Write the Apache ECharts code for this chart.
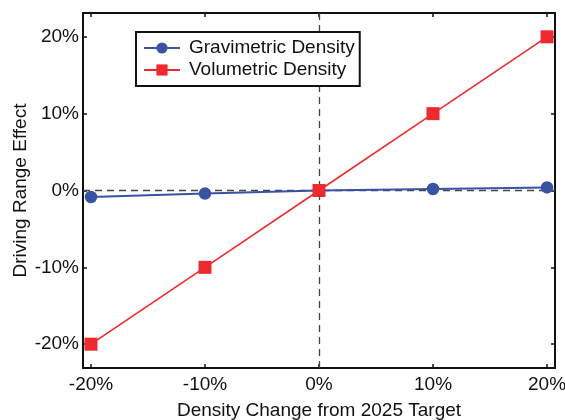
<!DOCTYPE html>
<html><head><meta charset="utf-8">
<script src="https://cdn.jsdelivr.net/npm/echarts@6/dist/echarts.min.js"></script>
<style>html,body{margin:0;padding:0;background:#fff}#c{width:565px;height:420px}</style>
</head><body><div id="c"></div>
<script>
const xTicks = [-20, -10, 0, 10, 20];
const yTicks = [-20, -10, 0, 10, 20];
const xValues = [-20, -10, 0, 10, 20];
const gravimetric = [-0.85, -0.4, 0, 0.2, 0.4];
const volumetric = [-20, -10, 0, 10, 20];

const FONT = '"Liberation Sans", Arial, sans-serif';
const FS = 19;
const chart = echarts.init(document.getElementById('c'), null, {renderer: 'canvas'});
const pct = v => Math.round(v) + '%';
const axBase = {
  type: 'value',
  axisLine: {show: true, onZero: false, lineStyle: {color: '#111', width: 2}},
  splitLine: {show: false},
  nameMoveOverlap: false,
};
chart.setOption({
  animation: false,
  grid: {left: 83, right: 10, top: 13, bottom: 52, containLabel: false, outerBoundsMode: 'none'},
  legend: {
    show: true,
    left: 136, top: 32,
    orient: 'vertical',
    itemGap: 2,
    itemWidth: 36, itemHeight: 14,
    padding: [6, 5, 6, 7],
    borderColor: '#111', borderWidth: 2, backgroundColor: '#fff',
    textStyle: {fontFamily: FONT, fontSize: FS, color: '#111', lineHeight: 20, padding: [0, 0, 0, 4]},
    data: ['Gravimetric Density', 'Volumetric Density']
  },
  xAxis: [
    Object.assign({}, axBase, {
      min: -20.7, max: 20.7, position: 'bottom',
      name: 'Density Change from 2025 Target', nameLocation: 'middle', nameGap: 33,
      nameTextStyle: {fontFamily: FONT, fontSize: FS, color: '#111'},
      axisTick: {show: true, inside: true, length: 4, customValues: xTicks, lineStyle: {color: '#111', width: 1.5}},
      axisLabel: {show: true, customValues: xTicks, formatter: pct, margin: 7, fontFamily: FONT, fontSize: FS, color: '#111'}
    }),
    Object.assign({}, axBase, {
      min: -20.7, max: 20.7, position: 'top',
      axisTick: {show: true, inside: true, length: 4, customValues: xTicks, lineStyle: {color: '#111', width: 1.5}},
      axisLabel: {show: false}
    })
  ],
  yAxis: [
    Object.assign({}, axBase, {
      min: -23.1, max: 23.1, position: 'left',
      name: 'Driving Range Effect', nameLocation: 'middle', nameGap: 53,
      nameTextStyle: {fontFamily: FONT, fontSize: FS, color: '#111'},
      axisTick: {show: true, inside: true, length: 4, customValues: yTicks, lineStyle: {color: '#111', width: 1.5}},
      axisLabel: {show: true, customValues: yTicks, formatter: pct, margin: 4, fontFamily: FONT, fontSize: FS, color: '#111'}
    }),
    Object.assign({}, axBase, {
      min: -23.1, max: 23.1, position: 'right',
      axisTick: {show: true, inside: true, length: 4, customValues: yTicks, lineStyle: {color: '#111', width: 1.5}},
      axisLabel: {show: false}
    })
  ],
  series: [
    {
      name: 'Gravimetric Density', type: 'line',
      data: xValues.map((x, i) => [x, gravimetric[i]]),
      symbol: 'circle', symbolSize: 12.5,
      lineStyle: {color: '#3953a4', width: 2},
      itemStyle: {color: '#3953a4'},
      z: 3,
      markLine: {
        silent: true, symbol: 'none', label: {show: false},
        lineStyle: {color: '#444', type: [7, 5], width: 1.3},
        data: [{xAxis: 0}, {yAxis: 0}],
        z: 1
      }
    },
    {
      name: 'Volumetric Density', type: 'line',
      data: xValues.map((x, i) => [x, volumetric[i]]),
      symbol: 'rect', symbolSize: 13,
      lineStyle: {color: '#ee2a2e', width: 1.6},
      itemStyle: {color: '#ee2a2e'},
      z: 4
    }
  ]
});
</script></body></html>
